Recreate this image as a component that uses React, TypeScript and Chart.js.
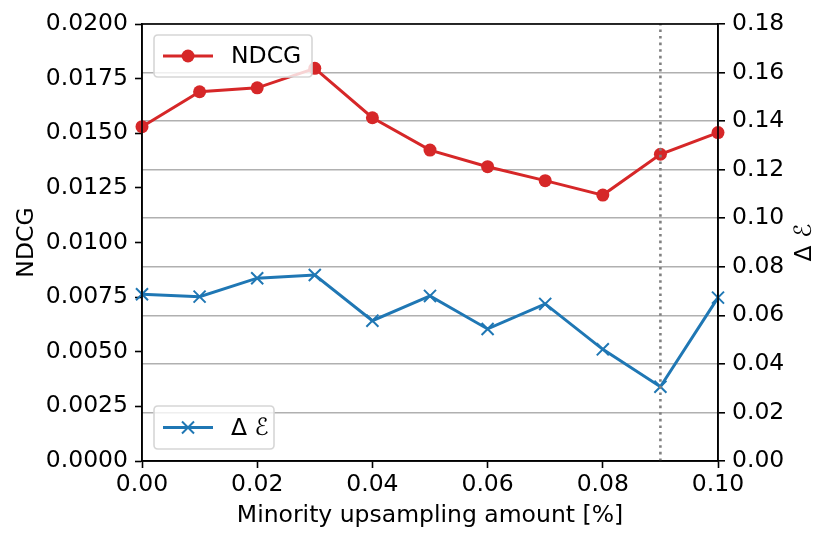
import React, { useEffect, useRef } from 'react';
import { Chart, registerables } from 'chart.js';

Chart.register(...registerables);

const upsampling = [0, 0.01, 0.02, 0.03, 0.04, 0.05, 0.06, 0.07, 0.08, 0.09, 0.1];
const ndcg = [0.0153, 0.0169, 0.01708, 0.01797, 0.01571, 0.01423, 0.01347, 0.01283, 0.01217, 0.01404, 0.01503];
const deltaE = [0.0687, 0.0677, 0.0753, 0.0766, 0.0578, 0.068, 0.0544, 0.0647, 0.046, 0.0306, 0.0673];
const markerX = 0.09;
const xTitle = 'Minority upsampling amount [%]';
const leftTitle = 'NDCG';
const rightTitle = 'Δ ℰ';
const ndcgLabel = 'NDCG';
const deltaLabel = 'Δ ℰ';

const RED = '#d62728';
const BLUE = '#1f77b4';
const FONT = '"DejaVu Sans", sans-serif';
const FS = 23.5;

const decorPlugin = {
  id: 'decor',
  afterDatasetsDraw(chart: any) {
    const { ctx, chartArea, scales } = chart;
    const x = scales.x.getPixelForValue(markerX);
    ctx.save();
    ctx.strokeStyle = '#808080';
    ctx.lineWidth = 2.6;
    ctx.setLineDash([2.6, 4]);
    ctx.beginPath();
    ctx.moveTo(x, chartArea.bottom);
    ctx.lineTo(x, chartArea.top);
    ctx.stroke();
    ctx.restore();
  },
  afterDraw(chart: any) {
    const { ctx, chartArea } = chart;
    ctx.save();
    ctx.strokeStyle = '#000';
    ctx.lineWidth = 1.6;
    ctx.strokeRect(chartArea.left, chartArea.top, chartArea.right - chartArea.left, chartArea.bottom - chartArea.top);

    const drawLegend = (bx: number, by: number, bw: number, bh: number, color: string, label: string, marker: 'circle' | 'cross') => {
      ctx.save();
      ctx.beginPath();
      const r = 4;
      ctx.moveTo(bx + r, by);
      ctx.lineTo(bx + bw - r, by);
      ctx.quadraticCurveTo(bx + bw, by, bx + bw, by + r);
      ctx.lineTo(bx + bw, by + bh - r);
      ctx.quadraticCurveTo(bx + bw, by + bh, bx + bw - r, by + bh);
      ctx.lineTo(bx + r, by + bh);
      ctx.quadraticCurveTo(bx, by + bh, bx, by + bh - r);
      ctx.lineTo(bx, by + r);
      ctx.quadraticCurveTo(bx, by, bx + r, by);
      ctx.closePath();
      ctx.fillStyle = 'rgba(255,255,255,0.8)';
      ctx.fill();
      ctx.strokeStyle = '#d6d6d6';
      ctx.lineWidth = 1.6;
      ctx.stroke();
      const cy = by + bh / 2;
      ctx.strokeStyle = color;
      ctx.lineWidth = 3;
      ctx.beginPath();
      ctx.moveTo(bx + 9, cy);
      ctx.lineTo(bx + 59, cy);
      ctx.stroke();
      const mx = bx + 34;
      if (marker === 'circle') {
        ctx.fillStyle = color;
        ctx.beginPath();
        ctx.arc(mx, cy, 6.5, 0, Math.PI * 2);
        ctx.fill();
      } else {
        ctx.lineWidth = 2;
        ctx.beginPath();
        ctx.moveTo(mx - 6, cy - 6);
        ctx.lineTo(mx + 6, cy + 6);
        ctx.moveTo(mx - 6, cy + 6);
        ctx.lineTo(mx + 6, cy - 6);
        ctx.stroke();
      }
      ctx.fillStyle = '#000';
      ctx.font = `${FS}px ${FONT}`;
      ctx.textBaseline = 'middle';
      ctx.textAlign = 'left';
      ctx.fillText(label, bx + 77, cy + 1);
      ctx.restore();
    };
    drawLegend(154, 35, 158, 42, RED, ndcgLabel, 'circle');
    drawLegend(154, 406, 120, 43, BLUE, deltaLabel, 'cross');

    ctx.fillStyle = '#000';
    ctx.font = `${FS}px ${FONT}`;
    ctx.textAlign = 'center';
    ctx.textBaseline = 'middle';
    ctx.fillText(xTitle, (chartArea.left + chartArea.right) / 2, 516);
    const cyMid = (chartArea.top + chartArea.bottom) / 2;
    ctx.save();
    ctx.translate(27, cyMid);
    ctx.rotate(-Math.PI / 2);
    ctx.fillText(leftTitle, 0, 0);
    ctx.restore();
    ctx.save();
    ctx.translate(805, cyMid);
    ctx.rotate(-Math.PI / 2);
    ctx.fillText(rightTitle, 0, 0);
    ctx.restore();
    ctx.restore();
  },
};

export default function App() {
  const ref = useRef<HTMLCanvasElement | null>(null);
  useEffect(() => {
    if (!ref.current) return;
    Chart.defaults.font.family = FONT;
    const chart = new Chart(ref.current, {
      type: 'line',
      data: {
        datasets: [
          {
            label: ndcgLabel,
            data: upsampling.map((x, i) => ({ x, y: ndcg[i] })),
            borderColor: RED,
            backgroundColor: RED,
            borderWidth: 3,
            pointStyle: 'circle',
            pointRadius: 6.5,
            pointBorderWidth: 0,
            yAxisID: 'y',
            clip: false as any,
          },
          {
            label: deltaLabel,
            data: upsampling.map((x, i) => ({ x, y: deltaE[i] })),
            borderColor: BLUE,
            backgroundColor: BLUE,
            borderWidth: 3,
            pointStyle: 'cross',
            rotation: 45,
            pointRadius: 8.5,
            pointBorderWidth: 2,
            yAxisID: 'y1',
            clip: false as any,
          },
        ],
      },
      options: {
        responsive: false,
        animation: false,
        layout: { padding: { top: 24, left: 0, right: 0, bottom: 0 } },
        plugins: { legend: { display: false }, tooltip: { enabled: false } },
        scales: {
          x: {
            type: 'linear',
            min: 0,
            max: 0.1,
            afterFit: (s: any) => { s.height = 82; },
            grid: { drawOnChartArea: false, tickLength: 7, tickColor: '#000', tickWidth: 1.6 } as any,
            border: { color: '#000', width: 1.6 },
            ticks: {
              stepSize: 0.02,
              color: '#000',
              font: { size: FS },
              padding: 3,
              maxRotation: 0,
              callback: (v: any) => Number(v).toFixed(2),
            },
          },
          y: {
            type: 'linear',
            position: 'left',
            min: 0,
            max: 0.02,
            afterFit: (s: any) => { s.width = 142; },
            grid: { drawOnChartArea: false, tickLength: 7, tickColor: '#000', tickWidth: 1.6 } as any,
            border: { color: '#000', width: 1.6 },
            ticks: {
              stepSize: 0.0025,
              color: '#000',
              font: { size: FS },
              padding: 7,
              callback: (v: any) => Number(v).toFixed(4),
            },
          },
          y1: {
            type: 'linear',
            position: 'right',
            min: 0,
            max: 0.18,
            afterFit: (s: any) => { s.width = 113; },
            grid: { drawOnChartArea: true, color: '#b0b0b0', lineWidth: 1.6, tickLength: 7, tickColor: '#000', tickWidth: 1.6 } as any,
            border: { color: '#000', width: 1.6 },
            ticks: {
              stepSize: 0.02,
              color: '#000',
              font: { size: FS },
              padding: 7,
              callback: (v: any) => Number(v).toFixed(2),
            },
          },
        },
      },
      plugins: [decorPlugin],
    });
    return () => chart.destroy();
  }, []);
  return (
    <div style={{ position: 'absolute', left: 0, top: 0, width: 831, height: 543, background: '#fff' }}>
      <canvas ref={ref} width={831} height={543} style={{ width: 831, height: 543 }} />
    </div>
  );
}
